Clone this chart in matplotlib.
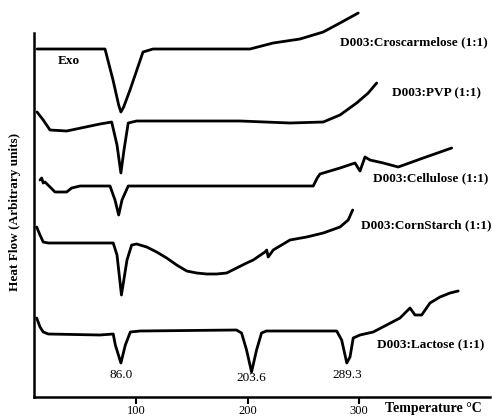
import numpy as np
import matplotlib.pyplot as plt

plt.rcParams['font.family'] = ['Liberation Serif', 'DejaVu Serif']

# DSC traces: temperature (deg C) and heat flow (arbitrary units, stacked)
cros_t = [10.5, 71.7, 78.9, 84.0, 86.0, 88.5, 94.2, 105.9, 114.9, 202.2, 223.1, 247.2, 268.1,
          283.2, 299.6]
cros_h = [34.8, 34.8, 31.7, 29.2, 28.5, 29.0, 30.7, 34.5, 34.8, 34.8, 35.4, 35.8, 36.5,
          37.4, 38.4]

pvp_t = [10.5, 16.1, 22.2, 37.2, 67.2, 77.7, 82.5, 86.0, 88.8, 92.6, 100.2, 193.2, 238.2,
         268.1, 283.2, 298.2, 308.6, 316.2]
pvp_h = [28.5, 27.7, 26.7, 26.6, 27.3, 27.5, 25.2, 22.4, 24.7, 27.4, 27.6, 27.6, 27.4,
         27.5, 28.2, 29.4, 30.4, 31.4]

cell_t = [13.2, 14.7, 16.1, 17.7, 22.2, 26.7, 37.2, 41.7, 49.2, 76.2, 80.7, 84.0, 87.0,
          92.6, 259.1, 262.7, 265.2, 283.2, 296.7, 301.2, 305.7, 310.2, 322.1, 335.6,
          358.1, 383.7]
cell_h = [21.7, 21.9, 21.4, 21.5, 21.0, 20.5, 20.5, 20.9, 21.1, 21.1, 19.7, 18.2, 19.7,
          21.1, 21.1, 21.9, 22.3, 22.9, 23.4, 22.6, 24.0, 23.7, 23.4, 23.0, 23.9, 24.9]

corn_t = [10.2, 13.2, 16.1, 20.6, 79.1, 82.5, 86.5, 91.5, 95.7, 100.2, 109.2, 118.2, 127.2,
          136.2, 145.2, 154.2, 163.2, 172.2, 181.2, 190.2, 199.2, 205.1, 215.7, 217.2,
          218.6, 223.1, 238.2, 253.2, 268.1, 283.2, 290.6, 294.6]
corn_h = [17.0, 16.2, 15.5, 15.4, 15.4, 14.2, 10.2, 13.7, 15.2, 15.3, 15.0, 14.5, 13.9,
          13.2, 12.6, 12.4, 12.3, 12.3, 12.4, 12.9, 13.4, 13.7, 14.5, 14.7, 14.0, 14.7,
          15.7, 16.0, 16.4, 17.0, 17.7, 18.7]

lact_t = [10.2, 13.2, 16.1, 20.6, 67.2, 79.1, 81.0, 86.0, 90.0, 94.5, 103.3, 190.0, 194.6,
          199.1, 203.6, 208.1, 212.6, 217.0, 280.2, 284.7, 289.3, 292.2, 295.1, 301.2,
          313.1, 325.2, 337.2, 346.2, 350.7, 356.7, 364.2, 373.2, 382.2, 389.6]
lact_h = [7.9, 7.0, 6.5, 6.3, 6.2, 6.3, 5.2, 3.4, 5.2, 6.5, 6.6, 6.7, 6.4, 4.7, 2.5, 4.7,
          6.4, 6.6, 6.6, 5.7, 3.4, 4.0, 5.9, 6.2, 6.5, 7.2, 7.9, 8.9, 8.2, 8.2, 9.4, 10.0,
          10.4, 10.6]

sample_names = ['D003:Croscarmelose (1:1)', 'D003:PVP (1:1)', 'D003:Cellulose (1:1)',
                'D003:CornStarch (1:1)', 'D003:Lactose (1:1)']
name_pos = [(283.2, 35.5), (329.7, 30.4), (312.9, 21.9), (301.8, 17.2), (316.2, 5.2)]

peaks = [86.0, 203.6, 289.3]
peak_y = [2.2, 1.9, 2.2]

fig = plt.figure(figsize=(4.92, 4.17), dpi=100)
ax = fig.add_axes([34 / 492, 20 / 417, 456 / 492, 387 / 417])

for t, h in [(cros_t, cros_h), (pvp_t, pvp_h), (cell_t, cell_h), (corn_t, corn_h),
             (lact_t, lact_h)]:
    ax.plot(t, h, color='black', lw=2.0, solid_joinstyle='round', solid_capstyle='round',
            clip_on=False)

for name, (x, y) in zip(sample_names, name_pos):
    ax.text(x, y, name, fontsize=9.5, fontweight='bold', ha='left', va='center')

for p, y in zip(peaks, peak_y):
    ax.text(p, y, f'{p:.1f}', fontsize=9.5, ha='center', va='center')

ax.text(29.4, 33.6, 'Exo', fontsize=9.5, fontweight='bold', ha='left', va='center')

ax.set_xlim(7.8, 418.2)
ax.set_ylim(0, 38.7)
ax.set_xticks([100, 200, 300])
ax.set_yticks([])
ax.tick_params(axis='x', direction='out', length=5, width=1.5, labelsize=9, pad=1)

for side in ['top', 'right']:
    ax.spines[side].set_visible(False)
ax.spines['left'].set_linewidth(1.8)
ax.spines['bottom'].set_linewidth(1.8)
ax.spines['left'].set_bounds(0, 36.4)

ax.set_xlabel('Temperature \u00b0C', fontsize=10, fontweight='bold', ha='center', va='center')
ax.xaxis.set_label_coords(0.875, -0.03)
ax.set_ylabel('Heat Flow (Arbitrary units)', fontsize=9.5, fontweight='bold',
              ha='center', va='center')
ax.yaxis.set_label_coords(-0.042, 0.478)

fig.savefig('out.png', dpi=100)
